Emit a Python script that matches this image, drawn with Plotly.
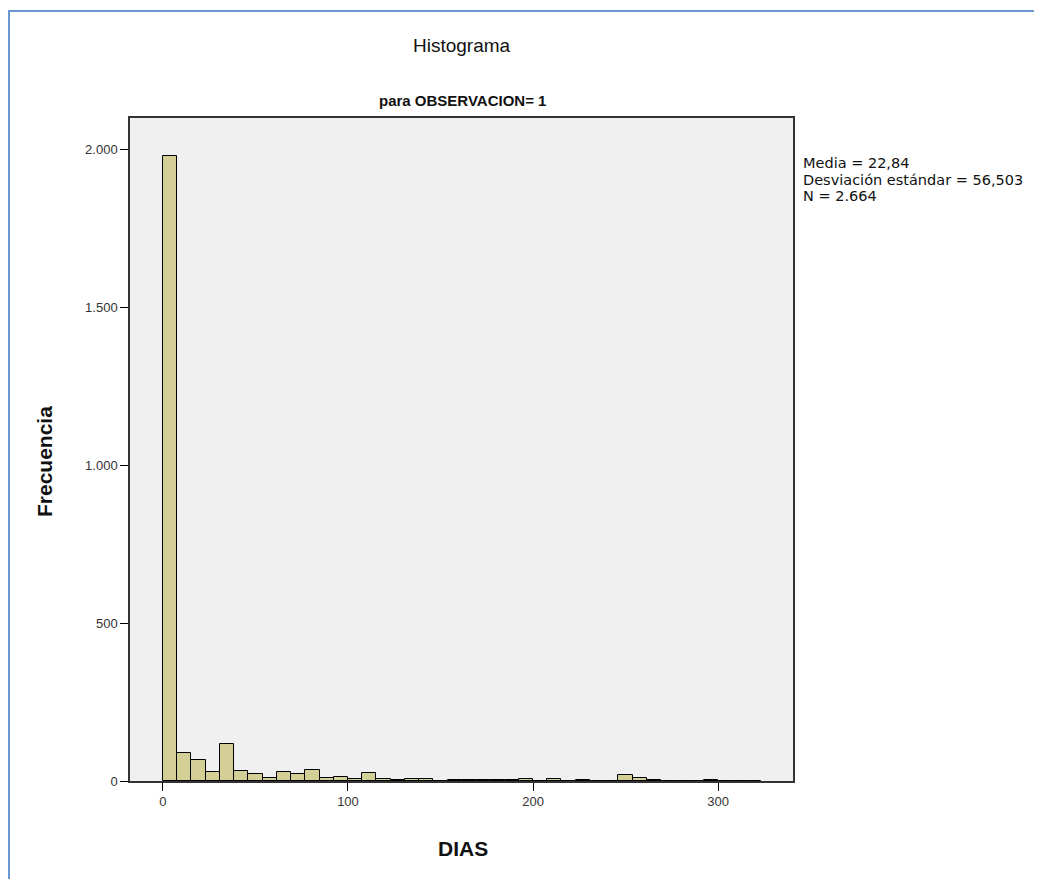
import plotly.graph_objects as go

# Data
bin_start = 0.0
bin_width = 100 / 13
counts = [1980, 89, 65, 29, 117, 33, 22, 11, 27, 21, 34, 11, 12, 5, 25, 5, 3, 5, 5, 0,
          2, 4, 2, 2, 4, 5, 1, 5, 1, 4, 1, 1, 19, 9, 2, 1, 1, 1, 2, 1, 1, 1]
x_ticks = [0, 100, 200, 300]
y_ticks = [0, 500, 1000, 1500, 2000]
stats_lines = ["Media = 22,84", "Desviación estándar = 56,503", "N = 2.664"]

centers = [bin_start + bin_width * (i + 0.5) for i in range(len(counts))]

OFF = 8  # page body margin
W, H = 1042, 879
L, T = 130 - OFF, 118 - OFF
pw, ph = 663, 663
R, B = W - L - pw, H - T - ph

def px(x):  # page pixel -> paper
    return (x - OFF - L) / pw

def py(y):
    return (T + ph - (y - OFF)) / ph

fig = go.Figure()
fig.add_trace(go.Bar(
    x=centers, y=counts, width=bin_width,
    marker=dict(color="#D3CF97", line=dict(color="#000000", width=1)),
    hoverinfo="x+y",
))

fig.update_layout(
    width=W, height=H,
    margin=dict(l=L, r=R, t=T, b=B, autoexpand=False),
    paper_bgcolor="white",
    plot_bgcolor="#F0F0F0",
    separators=",.",
    showlegend=False,
    font=dict(family="Liberation Sans, Arial, sans-serif", color="#222222"),
    xaxis=dict(
        range=[-17.8, 340.5], tickvals=x_ticks, ticks="outside", ticklen=8,
        tickcolor="#000", tickwidth=1, showgrid=False, zeroline=False,
        showline=True, linecolor="#333333", linewidth=1.5, mirror=True,
        tickfont=dict(size=13, color="#333333"),
    ),
    yaxis=dict(
        range=[0, 2101], tickvals=y_ticks, tickformat=",d", ticks="outside", ticklen=8,
        tickcolor="#000", tickwidth=1, showgrid=False, zeroline=False,
        showline=True, linecolor="#333333", linewidth=1.5, mirror=True,
        tickfont=dict(size=13, color="#333333"),
    ),
    bargap=0,
)

fig.add_annotation(text="Histograma", xref="paper", yref="paper",
                   x=px(462), y=py(46), xanchor="center", yanchor="middle",
                   showarrow=False, font=dict(size=19, color="#111111"))
fig.add_annotation(text="<b>para OBSERVACION= 1</b>", xref="paper", yref="paper",
                   x=px(462), y=py(100), xanchor="center", yanchor="middle",
                   showarrow=False, font=dict(size=15, color="#111111"))
fig.add_annotation(text="<b>Frecuencia</b>", xref="paper", yref="paper",
                   x=px(45), y=py(462), xanchor="center", yanchor="middle", textangle=-90,
                   showarrow=False, font=dict(size=21, color="#111111"))
fig.add_annotation(text="<b>DIAS</b>", xref="paper", yref="paper",
                   x=px(463), y=py(848), xanchor="center", yanchor="middle",
                   showarrow=False, font=dict(size=21, color="#111111"))
for i, line in enumerate(stats_lines):
    fig.add_annotation(text=line, xref="paper", yref="paper",
                       x=px(801), y=py(163 + 16.5 * i), xanchor="left", yanchor="middle",
                       align="left", showarrow=False,
                       font=dict(family="DejaVu Sans, sans-serif", size=14.5, color="#111111"))

# blue frame of the original output window
fig.add_shape(type="line", xref="paper", yref="paper",
              x0=px(7), x1=px(W + OFF), y0=py(11), y1=py(11),
              line=dict(color="#6A98D2", width=2))
fig.add_shape(type="line", xref="paper", yref="paper",
              x0=px(9), x1=px(9), y0=py(11), y1=py(H + OFF),
              line=dict(color="#6A98D2", width=2))

fig.write_html("out.html")
